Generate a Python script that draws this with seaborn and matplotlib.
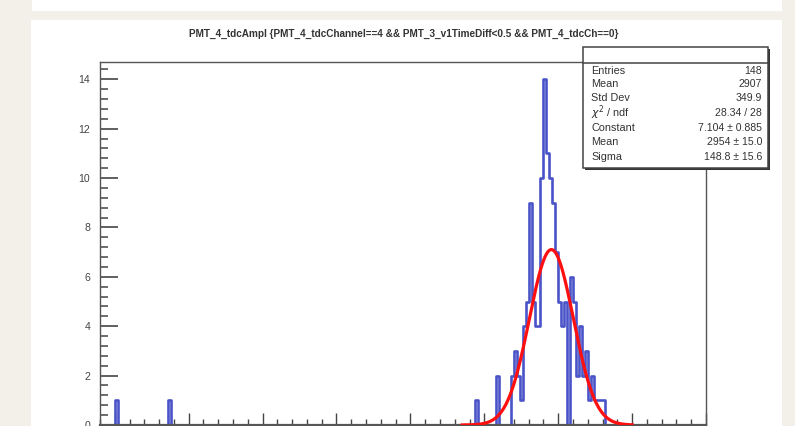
import numpy as np
import pandas as pd
import matplotlib
matplotlib.use("Agg")
import matplotlib.pyplot as plt
from matplotlib.patches import Rectangle
from matplotlib.lines import Line2D
from matplotlib.ticker import MultipleLocator
import seaborn as sns

plt.rcParams["font.family"] = ["Liberation Sans", "DejaVu Sans"]

# ---- histogram contents (bin low edge -> entries), 20-unit bins on [-100, 4000)
bin_low = [0, 360, 2440, 2580, 2680, 2700, 2720, 2740, 2760, 2780,
           2800, 2820, 2840, 2860, 2880, 2900, 2920, 2940, 2960, 2980,
           3000, 3020, 3040, 3080, 3100, 3120, 3140, 3160, 3180, 3200,
           3220, 3240, 3260, 3280, 3300]
bin_count = [1, 1, 1, 2, 2, 3, 2, 1, 4, 5,
             9, 5, 4, 4, 10, 14, 11, 10, 9, 7,
             5, 4, 5, 6, 5, 2, 4, 2, 3, 1,
             2, 1, 1, 1, 1]
x_range = (-100, 4000)
bin_width = 20

# ---- gaussian fit result
fit_names = ["Constant", "Mean", "Sigma"]
fit_values = [7.104, 2954.0, 148.8]
fit_errors = [0.885, 15.0, 15.6]
fit_range = (2350, 3500)
chi2, ndf = 28.34, 28

title = "PMT_4_tdcAmpl {PMT_4_tdcChannel==4 && PMT_3_v1TimeDiff<0.5 && PMT_4_tdcCh==0}"
y_ticks = [0, 2, 4, 6, 8, 10, 12, 14]

W, H = 795, 426
fig = plt.figure(figsize=(W / 100, H / 100), dpi=100)
fig.patch.set_facecolor("#f3f0ea")


def fbox(x0, y0, x1, y1):
    """pixel box (top-left origin) -> figure fraction rectangle args"""
    return (x0 / W, 1 - y1 / H), (x1 - x0) / W, (y1 - y0) / H


# white canvas panels (behind the axes)
for (x0, y0, x1, y1) in [(32, 0, 782, 11), (31, 20, 782, 426)]:
    xy, w, h = fbox(x0, y0, x1, y1)
    fig.patches.append(Rectangle(xy, w, h, transform=fig.transFigure,
                                 facecolor="white", edgecolor="none", zorder=-5))

ax = fig.add_axes([100 / W, 1 / H, 606 / W, 363 / H])
ax.set_zorder(1)
ax.set_facecolor("white")

edges = [float(e) for e in np.arange(x_range[0], x_range[1] + bin_width, bin_width)]
hist_df = pd.DataFrame({
    "center": np.array(bin_low, dtype=float) + bin_width / 2,
    "count": np.array(bin_count, dtype=float),
})

sns.histplot(data=hist_df, x="center", weights="count", bins=edges,
             element="step", fill=False, color="#4a54c8", linewidth=1.9,
             ax=ax, zorder=2)

A, mu, sig = fit_values
xs = np.linspace(fit_range[0], fit_range[1], 500)
ys = A * np.exp(-0.5 * ((xs - mu) / sig) ** 2)
sns.lineplot(x=xs, y=ys, color="#ff1010", linewidth=2.3, ax=ax, zorder=4,
             sort=False, estimator=None)

ax.set_xlim(*x_range)
ax.set_ylim(0, 14.7)
ax.set_xlabel("")
ax.set_ylabel("")
for s in ax.spines.values():
    s.set_color("#555555")
    s.set_linewidth(1.0)
    s.set_zorder(3)
ax.spines["bottom"].set_linewidth(1.6)

ax.set_yticks(y_ticks)
ax.set_yticklabels([str(v) for v in y_ticks])
ax.yaxis.set_minor_locator(MultipleLocator(0.4))
ax.xaxis.set_major_locator(MultipleLocator(500))
ax.xaxis.set_minor_locator(MultipleLocator(100))
ax.tick_params(axis="y", which="major", direction="in", length=13, width=1.2,
               color="#444444", labelsize=7.6, labelcolor="#444444", pad=7,
               right=False)
ax.tick_params(axis="y", which="minor", direction="in", length=5.5, width=1.1,
               color="#444444", right=False)
ax.tick_params(axis="x", which="major", direction="in", length=8.5, width=1.0,
               color="#444444", labelbottom=False, top=False)
ax.tick_params(axis="x", which="minor", direction="in", length=4, width=1.0,
               color="#444444", top=False)

fig.text(404 / W, 1 - 34 / H, title, ha="center", va="center",
         fontsize=7.2, color="#333333", fontweight="bold")

# ---- statistics box
bx0, by0, bx1, by1 = 583, 47, 768, 168
xy, w, h = fbox(bx0 + 2, by0 + 2, bx1 + 2, by1 + 2)
fig.patches.append(Rectangle(xy, w, h, transform=fig.transFigure,
                             facecolor="#333333", edgecolor="none", zorder=9))
xy, w, h = fbox(bx0, by0, bx1, by1)
fig.patches.append(Rectangle(xy, w, h, transform=fig.transFigure,
                             facecolor="white", edgecolor="#444444",
                             linewidth=1.1, zorder=10))
fig.lines.append(Line2D([bx0 / W, bx1 / W], [1 - 63 / H, 1 - 63 / H],
                        transform=fig.transFigure, color="#444444",
                        linewidth=1.1, zorder=11))

weights = hist_df["count"].to_numpy()
centers = hist_df["center"].to_numpy()
entries = int(weights.sum())
mean = float((weights * centers).sum() / weights.sum())
std = float(np.sqrt((weights * (centers - mean) ** 2).sum() / weights.sum()))

rows = [
    ("Entries", f"{entries}"),
    ("Mean", f"{mean:.4g}"),
    ("Std Dev", f"{std:.4g}"),
    (r"$\chi^2$ / ndf", f"{chi2:.2f} / {ndf}"),
    (fit_names[0], f"{fit_values[0]:.3f} ± {fit_errors[0]:.3f}"),
    (fit_names[1], f"{fit_values[1]:.0f} ± {fit_errors[1]:.1f}"),
    (fit_names[2], f"{fit_values[2]:.1f} ± {fit_errors[2]:.1f}"),
]
row_y = [71, 84, 98, 113, 128, 142, 157]
for (lab, val), yy in zip(rows, row_y):
    fig.text(591 / W, 1 - yy / H, lab, ha="left", va="center",
             fontsize=7.8, color="#333333", zorder=12)
    fig.text(762 / W, 1 - yy / H, val, ha="right", va="center",
             fontsize=7.6, color="#333333", zorder=12)

fig.savefig("out.png", dpi=100, facecolor=fig.get_facecolor())
